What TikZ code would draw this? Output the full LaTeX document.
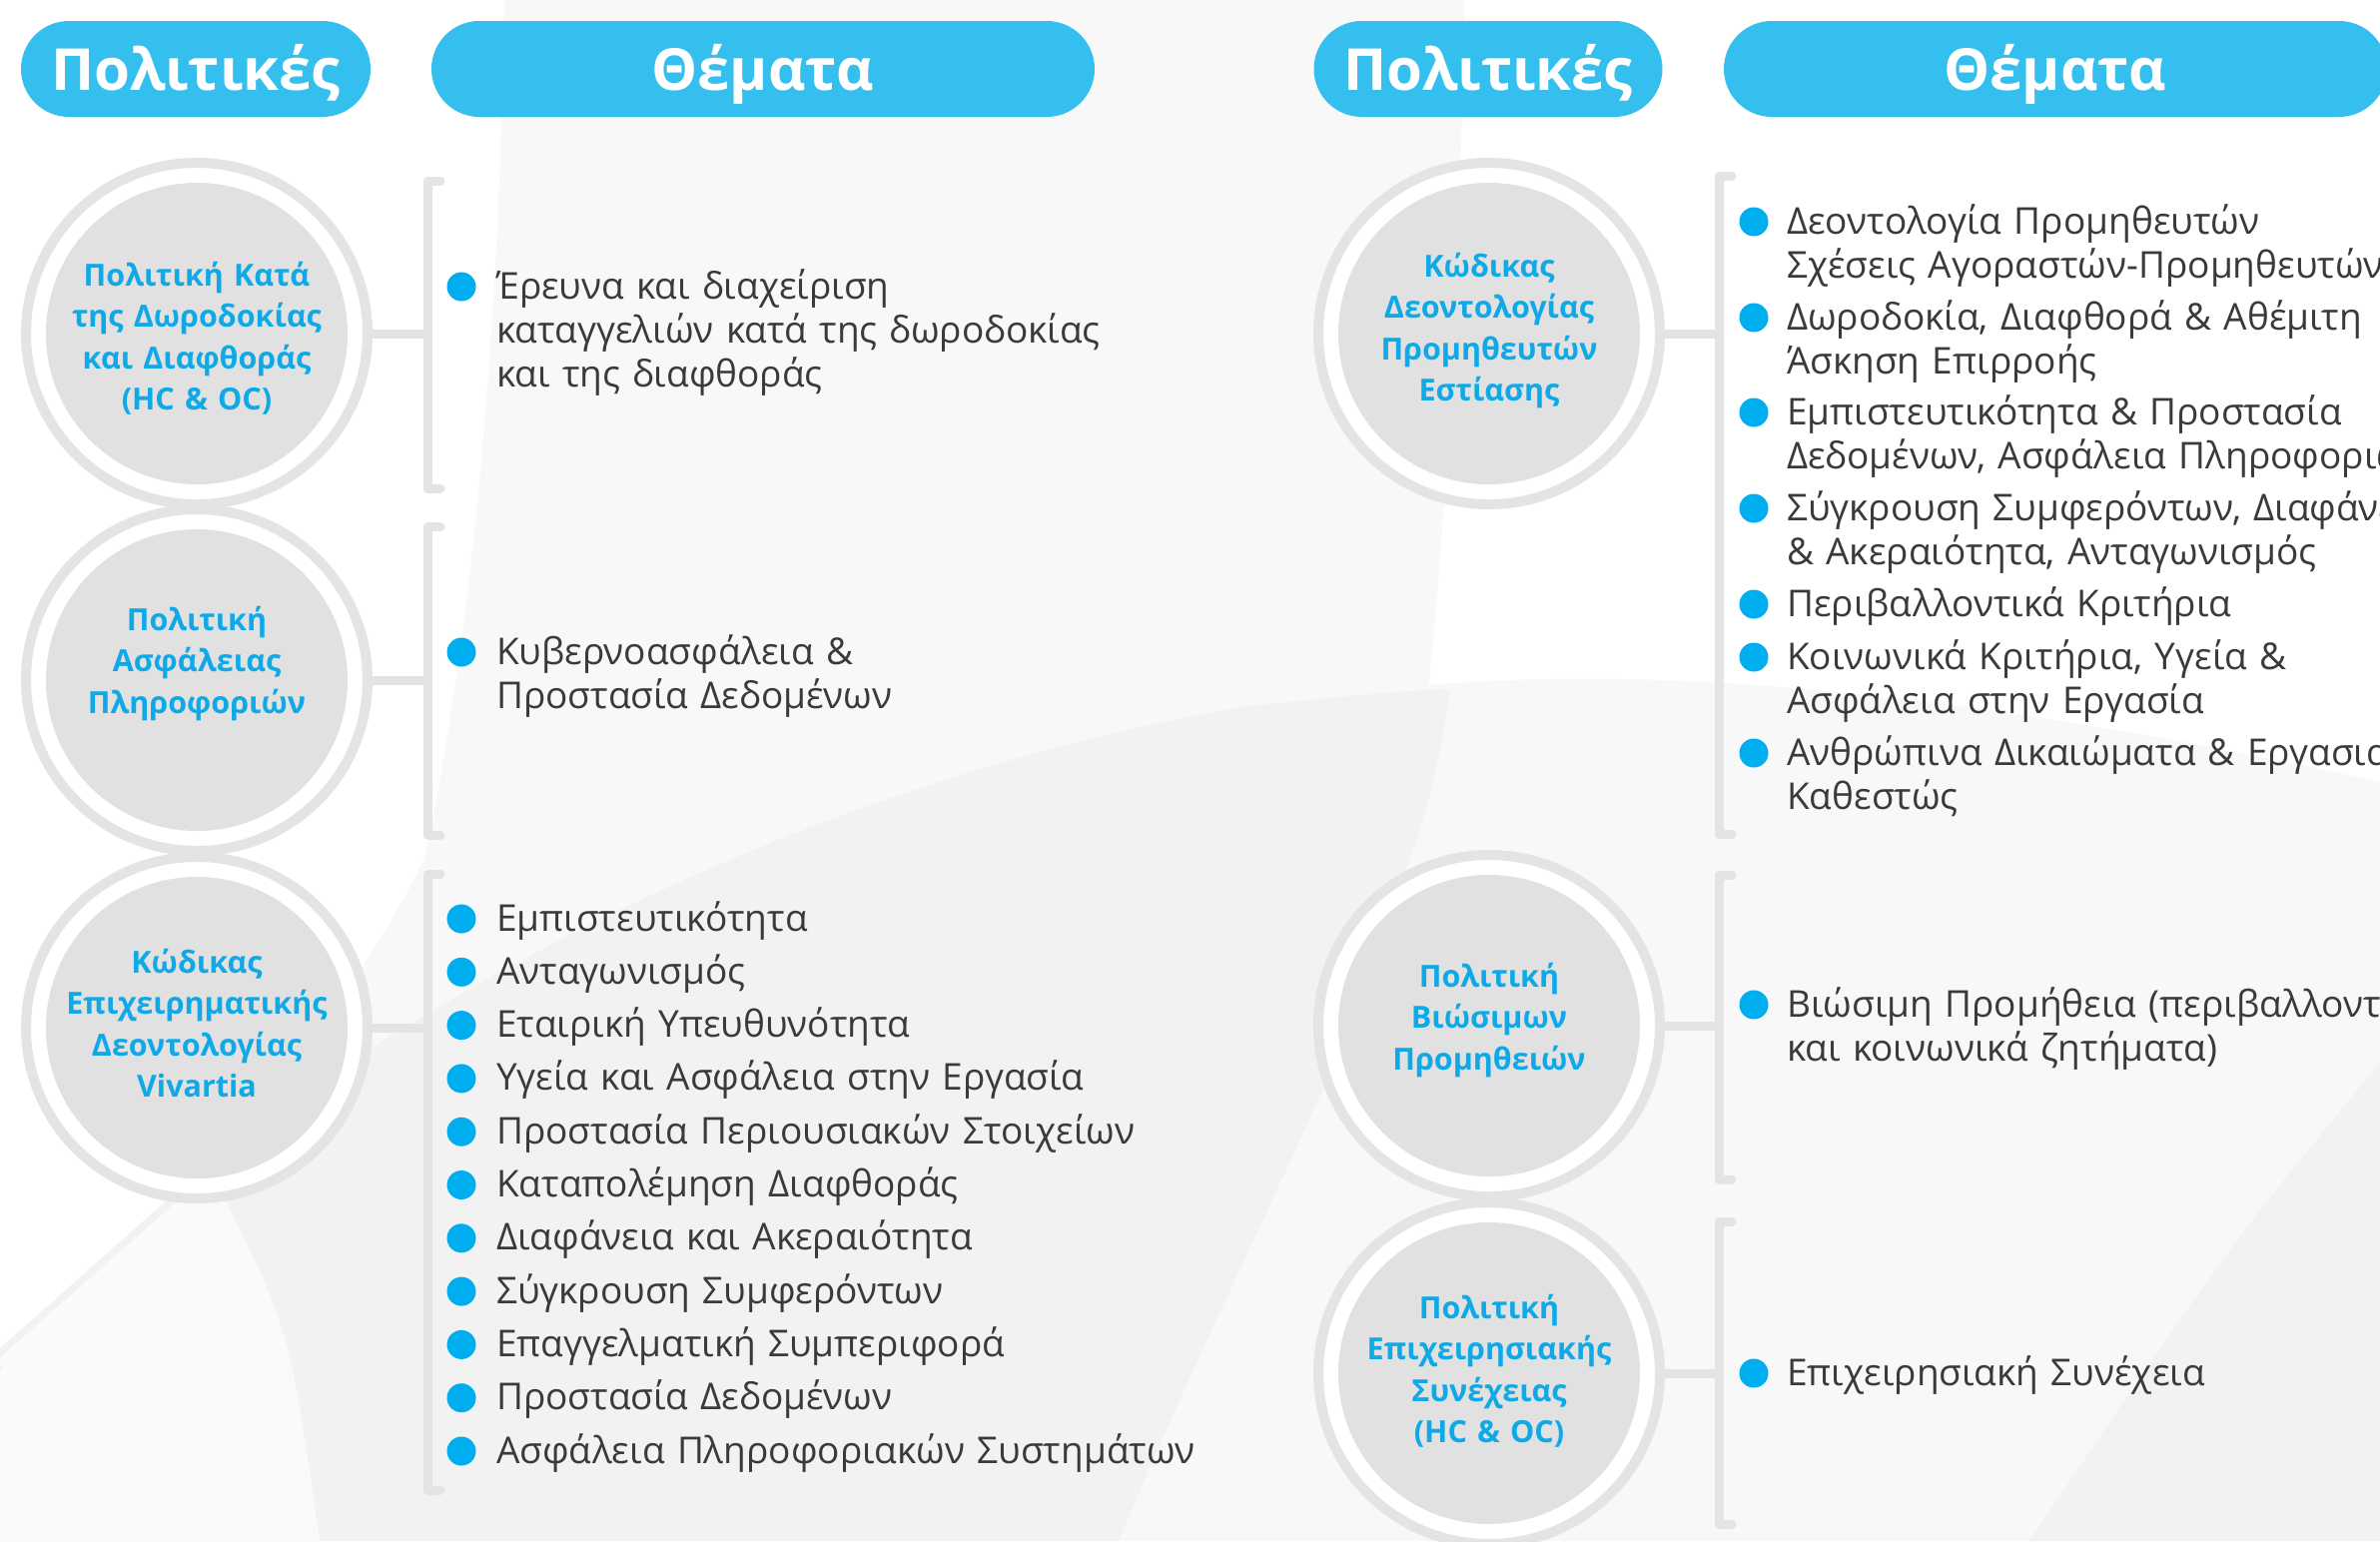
\documentclass[tikz,border=0pt]{standalone}
\usepackage{fontspec}
\setmainfont{Open Sans}
\definecolor{pillc}{HTML}{35BFEE}
\definecolor{bulc}{HTML}{00AEEF}
\definecolor{ctext}{HTML}{0FA9E8}
\definecolor{ringc}{HTML}{E4E4E4}
\definecolor{diskc}{HTML}{E1E1E1}
\definecolor{textc}{HTML}{3A3A3A}
\definecolor{bgA}{HTML}{F8F8F8}
\definecolor{bgB}{HTML}{F2F2F2}
\begin{document}
\begin{tikzpicture}[x=1pt,y=-1pt,
  pill/.style={rectangle, rounded corners=48pt, fill=pillc, minimum height=96pt, inner sep=0pt,
     text=white, font=\fontsize{58}{60}\selectfont\bfseries, text height=42pt, text depth=0pt},
  ring/.style={circle, draw=ringc, line width=10pt, fill=white, minimum size=342pt, inner sep=0pt},
  ctxt/.style={anchor=base, inner sep=0pt, text width=330pt, align=center, text=ctext,
     font=\fontsize{30.5}{41.5}\selectfont\bfseries},
  conn/.style={draw=ringc, line width=9pt},
  brk/.style={draw=ringc, line width=9pt, line cap=round, line join=round},
  bul/.style={circle, fill=bulc, minimum size=29pt, inner sep=0pt},
  item/.style={anchor=base west, inner sep=0pt, text width=1000pt, align=left, text=textc,
     font=\fontsize{37}{44}\selectfont}]
\clip (0,0) rectangle (2383,1543);
% ---------- background ----------
\fill[white] (0,0) rectangle (2383,1543);
\fill[bgA] (1300,702) .. controls (1500,670) and (1800,655) .. (2383,783) -- (2383,1543) -- (1100,1543) -- cycle;
\fill[bgA] (505,0) .. controls (500,350) and (470,650) .. (425,860) .. controls (330,1050) and (150,1250) .. (0,1385)
   -- (0,1543) -- (1120,1543) .. controls (1220,1300) and (1380,1000) .. (1404,880)
   .. controls (1440,700) and (1462,300) .. (1466,0) -- cycle;
\fill[bgB] (0,1350) -- (205,1168) .. controls (300,1090) and (700,800) .. (1250,707)
   .. controls (1350,697) and (1400,692) .. (1452,690)
   .. controls (1440,780) and (1420,840) .. (1404,880) .. controls (1380,1000) and (1220,1300) .. (1120,1543)
   -- (0,1543) -- cycle;
\fill[bgA!70!white] (0,1372) -- (216,1182) .. controls (290,1330) .. (320,1543) -- (0,1543) -- cycle;
\draw[white!70!bgB, line width=10pt] (0,1366) -- (212,1179);
\fill[bgB] (2383,1064) .. controls (2230,1250) .. (2032,1543) -- (2383,1543) -- cycle;
% ---------- headers ----------
\node[pill, minimum width=350pt] (hpl) at (196,69) {Πολιτικές};
\node[pill, minimum width=664pt] (htl) at (764,69) {Θέματα};
\node[pill, minimum width=349pt] (hpr) at (1490,69) {Πολιτικές};
\node[pill, minimum width=664pt] (htr) at (2058,69) {Θέματα};
% ---------- circles ----------
\foreach \n/\x/\y in {lc1/197/334, lc2/197/681, lc3/197/1029, rc1/1491/334, rc2/1491/1027, rc3/1491/1375}{
  \node[ring] (\n) at (\x,\y) {};
  \fill[diskc] (\n.center) circle (151);
}
\node[ctxt] (lt1) at (197,286) {Πολιτική Κατά\\της Δωροδοκίας\\και Διαφθοράς\\(HC \& OC)};
\node[ctxt] (lt2) at (197,631) {Πολιτική\\Ασφάλειας\\Πληροφοριών};
\node[ctxt] (lt3) at (197,974) {Κώδικας\\Επιχειρηματικής\\Δεοντολογίας\\Vivartia};
\node[ctxt] (rt1) at (1491,277) {Κώδικας\\Δεοντολογίας\\Προμηθευτών\\Εστίασης};
\node[ctxt] (rt2) at (1491,988) {Πολιτική\\Βιώσιμων\\Προμηθειών};
\node[ctxt] (rt3) at (1491,1320) {Πολιτική\\Επιχειρησιακής\\Συνέχειας\\(HC \& OC)};
% ---------- brackets ----------
\foreach \n/\x/\t/\m/\b in {lb1/428/181/334/489, lb2/428/527/681/836, lb3/428/875/1029/1492,
                          rb1/1721/176/334/835, rb2/1721/876/1027/1181, rb3/1721/1223/1375/1526}{
  \coordinate (\n t) at (\x,\t);
  \coordinate (\n m) at (\x,\m);
  \coordinate (\n b) at (\x,\b);
  \draw[brk] ([xshift=13pt]\n t) -- (\n t) -- (\n b) -- ([xshift=13pt]\n b);
}
\draw[conn] (lc1.east) -- (lb1m);
\draw[conn] (lc2.east) -- (lb2m);
\draw[conn] (lc3.east) -- (lb3m);
\draw[conn] (rc1.east) -- (rb1m);
\draw[conn] (rc2.east) -- (rb2m);
\draw[conn] (rc3.east) -- (rb3m);
% ---------- items left ----------
\node[bul] (l1b) at (462,287) {};
\node[item] (l1t) at (497,299) {Έρευνα και διαχείριση\\καταγγελιών κατά της δωροδοκίας\\και της διαφθοράς};
\node[bul] (l2b) at (462,653) {};
\node[item] (l2t) at (497,665) {Κυβερνοασφάλεια \&\\Προστασία Δεδομένων};
\foreach \t [count=\i from 0] in {Εμπιστευτικότητα, Ανταγωνισμός, Εταιρική Υπευθυνότητα,
   Υγεία και Ασφάλεια στην Εργασία, Προστασία Περιουσιακών Στοιχείων, Καταπολέμηση Διαφθοράς,
   Διαφάνεια και Ακεραιότητα, Σύγκρουση Συμφερόντων, Επαγγελματική Συμπεριφορά,
   Προστασία Δεδομένων, Ασφάλεια Πληροφοριακών Συστημάτων}{
  \node[bul] (l3b\i) at (462,{920+53.3*\i}) {};
  \node[item] (l3t\i) at (497,{932+53.3*\i}) {\t};
}
% ---------- items right ----------
\foreach \c/\t [count=\i] in {222/{Δεοντολογία Προμηθευτών\\Σχέσεις Αγοραστών-Προμηθευτών},
   318/{Δωροδοκία, Διαφθορά \& Αθέμιτη\\Άσκηση Επιρροής},
   413/{Εμπιστευτικότητα \& Προστασία\\Δεδομένων, Ασφάλεια Πληροφοριών},
   509/{Σύγκρουση Συμφερόντων, Διαφάνεια\\\& Ακεραιότητα, Ανταγωνισμός},
   605/{Περιβαλλοντικά Κριτήρια},
   658/{Κοινωνικά Κριτήρια, Υγεία \&\\Ασφάλεια στην Εργασία},
   754/{Ανθρώπινα Δικαιώματα \& Εργασιακό\\Καθεστώς}}{
  \node[bul] (r1b\i) at (1756,\c) {};
  \node[item] (r1t\i) at (1789,\c+12) {\t};
}
\node[bul] (r2b) at (1756,1006) {};
\node[item] (r2t) at (1789,1018) {Βιώσιμη Προμήθεια (περιβαλλοντικά\\και κοινωνικά ζητήματα)};
\node[bul] (r3b) at (1756,1375) {};
\node[item] (r3t) at (1789,1387) {Επιχειρησιακή Συνέχεια};
\end{tikzpicture}
\end{document}
